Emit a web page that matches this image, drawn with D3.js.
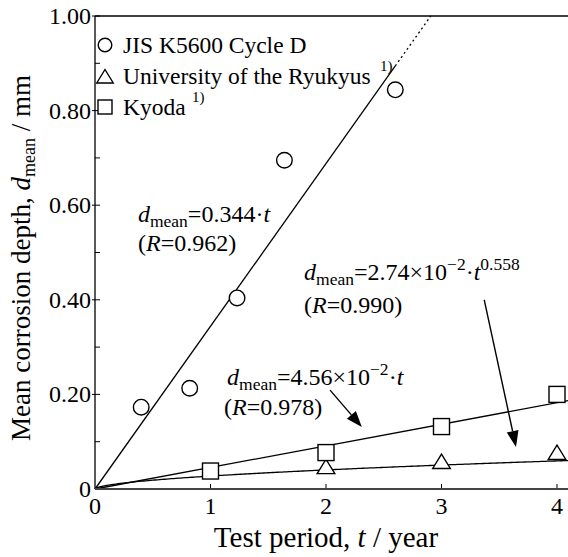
<!DOCTYPE html>
<html><head><meta charset="utf-8">
<script src="https://cdn.jsdelivr.net/npm/d3@7"></script>
<style>body{margin:0;background:#fff;} svg{display:block;} text{font-family:"Liberation Serif","Times New Roman",serif;fill:#000;}</style>
</head><body><svg id="c" width="568" height="557"></svg>
<script>
// Data
const jisT = [0.40, 0.82, 1.23, 1.64, 2.60];
const jisD = [0.173, 0.213, 0.404, 0.695, 0.844];
const ryuT = [2, 3, 4];
const ryuD = [0.046, 0.057, 0.076];
const kyoT = [1, 2, 3, 4];
const kyoD = [0.038, 0.077, 0.132, 0.200];
const xTicks = [0, 1, 2, 3, 4];
const yTicks = [0, 0.2, 0.4, 0.6, 0.8, 1.0];
const yTickLabels = ["0", "0.20", "0.40", "0.60", "0.80", "1.00"];
const legendLabels = ["JIS K5600 Cycle D", "University of the Ryukyus", "Kyoda"];
const fitJis = 0.344, fitKyo = 0.0456, fitRyuA = 0.0274, fitRyuB = 0.558;

const svg = d3.select("#c");
const x = d3.scaleLinear().domain([0, 4.1]).range([95, 95 + 4.1 * 115.5]);
const y = d3.scaleLinear().domain([0, 1]).range([489, 16]);

// frame
svg.append("line").attr("x1", x(0)).attr("x2", 568).attr("y1", y(1)).attr("y2", y(1)).attr("stroke", "#000").attr("stroke-width", 1.6);
svg.append("line").attr("x1", x(0)).attr("x2", x(0)).attr("y1", y(0)).attr("y2", y(1)).attr("stroke", "#000").attr("stroke-width", 1.3);

// y ticks (inward) minor every 0.1
d3.range(0, 1.001, 0.1).forEach(v => {
  svg.append("line").attr("x1", x(0)).attr("x2", x(0) + 5).attr("y1", y(v)).attr("y2", y(v)).attr("stroke", "#000").attr("stroke-width", 1);
});
yTicks.forEach((v, i) => {
  if (v > 0) svg.append("line").attr("x1", x(0) - 3).attr("x2", x(0)).attr("y1", y(v)).attr("y2", y(v)).attr("stroke", "#000").attr("stroke-width", 1);
  svg.append("text").attr("x", x(0) - 4).attr("y", y(v) + 8).attr("text-anchor", "end").attr("font-size", 24).text(yTickLabels[i]);
});
// x ticks inward
xTicks.forEach(v => {
  if (v > 0) svg.append("line").attr("x1", x(v)).attr("x2", x(v)).attr("y1", y(0)).attr("y2", y(0) - 5).attr("stroke", "#000").attr("stroke-width", 1);
  svg.append("text").attr("x", x(v)).attr("y", 514).attr("text-anchor", "middle").attr("font-size", 24).text(v);
});

// fit lines
const lineGen = d3.line().x(d => x(d[0])).y(d => y(d[1]));
const tBreak = 2.6, tTop = 1 / fitJis;
svg.append("path").attr("d", lineGen([[0, 0], [tBreak, fitJis * tBreak]])).attr("stroke", "#000").attr("fill", "none").attr("stroke-width", 1.3);
svg.append("path").attr("d", lineGen([[tBreak, fitJis * tBreak], [tTop, 1]])).attr("stroke", "#000").attr("fill", "none").attr("stroke-width", 1.3).attr("stroke-dasharray", "2,3");
svg.append("path").attr("d", lineGen([[0, 0], [4.1, fitKyo * 4.1]])).attr("stroke", "#000").attr("fill", "none").attr("stroke-width", 1.3);
const ryuCurve = d3.range(0, 4.101, 0.02).map(t => [t, fitRyuA * Math.pow(t, fitRyuB)]);
svg.append("path").attr("d", lineGen(ryuCurve)).attr("stroke", "#000").attr("fill", "none").attr("stroke-width", 1.3);

// x axis line (gray, thick)
svg.append("line").attr("x1", x(0)).attr("x2", 568).attr("y1", y(0)).attr("y2", y(0)).attr("stroke", "#444").attr("stroke-width", 2.2);

// markers
const circ = (cx, cy, r) => svg.append("circle").attr("cx", cx).attr("cy", cy).attr("r", r).attr("fill", "#fff").attr("stroke", "#000").attr("stroke-width", 1.4);
const tri = (cx, cy, s) => svg.append("path").attr("d", `M${cx},${cy - s * 0.5}L${cx + s * 0.55},${cy + s * 0.4}L${cx - s * 0.55},${cy + s * 0.4}Z`).attr("fill", "#fff").attr("stroke", "#000").attr("stroke-width", 1.4);
const sq = (cx, cy, s) => svg.append("rect").attr("x", cx - s / 2).attr("y", cy - s / 2).attr("width", s).attr("height", s).attr("fill", "#fff").attr("stroke", "#000").attr("stroke-width", 1.4);
jisT.forEach((t, i) => circ(x(t), y(jisD[i]), 7.8));
ryuT.forEach((t, i) => tri(x(t), y(ryuD[i]), 16));
kyoT.forEach((t, i) => sq(x(t), y(kyoD[i]), 16));

// legend
const legY = [45, 76, 107];
circ(105, legY[0], 6.8);
tri(105, legY[1] + 1, 15);
sq(105, legY[2], 14);
legendLabels.forEach((l, i) => svg.append("text").attr("x", 123).attr("y", legY[i] + 8).attr("font-size", 23.5).text(l));
svg.append("text").attr("x", 380).attr("y", 71).attr("font-size", 15).text("1)");
svg.append("text").attr("x", 192).attr("y", 102).attr("font-size", 15).text("1)");

// equations
function eq(t, d, parts) {
  const tx = svg.append("text").attr("x", x(t)).attr("y", y(d)).attr("font-size", 24);
  let cur = 0;
  parts.forEach(p => {
    const off = p.sub ? 5 : p.sup ? -10 : 0;
    const s = tx.append("tspan").attr("dy", off - cur).text(p.s);
    cur = off;
    if (p.sub || p.sup) s.attr("font-size", 17.5);
    if (p.i) s.attr("font-style", "italic");
  });
  return tx;
}
eq(0.372, 0.564, [{s: "d", i: 1}, {s: "mean", sub: 1}, {s: "=0.344·"}, {s: "t", i: 1}]);
eq(0.372, 0.503, [{s: "("}, {s: "R", i: 1}, {s: "=0.962)"}]);
eq(1.81, 0.442, [{s: "d", i: 1}, {s: "mean", sub: 1}, {s: "=2.74×10"}, {s: "−2", sup: 1}, {s: "·"}, {s: "t", i: 1}, {s: "0.558", sup: 1}]);
eq(1.81, 0.372, [{s: "("}, {s: "R", i: 1}, {s: "=0.990)"}]);
eq(1.143, 0.220, [{s: "d", i: 1}, {s: "mean", sub: 1}, {s: "=4.56×10"}, {s: "−2", sup: 1}, {s: "·"}, {s: "t", i: 1}]);
eq(1.117, 0.156, [{s: "("}, {s: "R", i: 1}, {s: "=0.978)"}]);

// arrows
function arrow(t0, d0, t1, d1) {
  const x0 = x(t0), y0 = y(d0), x1 = x(t1), y1 = y(d1);
  const ang = Math.atan2(y1 - y0, x1 - x0), L = 16, W = 6;
  const bx = x1 - L * Math.cos(ang), by = y1 - L * Math.sin(ang);
  svg.append("line").attr("x1", x0).attr("y1", y0).attr("x2", bx).attr("y2", by).attr("stroke", "#000").attr("stroke-width", 1.4);
  const px = -Math.sin(ang) * W, py = Math.cos(ang) * W;
  svg.append("path").attr("d", `M${x1},${y1}L${bx + px},${by + py}L${bx - px},${by - py}Z`).attr("fill", "#000");
}
arrow(2.035, 0.209, 2.31, 0.131);
arrow(3.37, 0.400, 3.645, 0.089);

// axis titles
const xt = svg.append("text").attr("x", 326).attr("y", 547).attr("text-anchor", "middle").attr("font-size", 29);
xt.append("tspan").text("Test period, ");
xt.append("tspan").attr("font-style", "italic").text("t");
xt.append("tspan").text(" / year");
const yt = svg.append("text").attr("transform", "translate(30,258) rotate(-90)").attr("text-anchor", "middle").attr("font-size", 27);
yt.append("tspan").text("Mean corrosion depth, ");
yt.append("tspan").attr("font-style", "italic").text("d");
yt.append("tspan").attr("font-size", 18).attr("dy", 5).text("mean");
yt.append("tspan").attr("dy", -5).text(" / mm");
</script></body></html>
